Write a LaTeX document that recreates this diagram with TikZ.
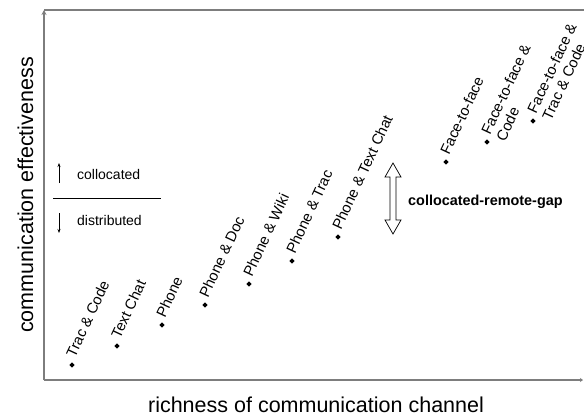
\documentclass[tikz,border=0pt]{standalone}
\usepackage{fontspec}
\setmainfont{Liberation Sans}
\usetikzlibrary{shapes.geometric, arrows.meta}
\definecolor{axisgray}{RGB}{125,125,125}
\newcommand{\twolines}[2]{\vtop{\hbox{#1}\hbox{#2}}}
\begin{document}
\begin{tikzpicture}[x=1pt,y=-1pt,
  axis/.style={draw=axisgray, line width=1.4pt},
  dot/.style={diamond, fill=black, inner sep=0pt, minimum size=5.5pt},
  lab/.style={rotate=65, anchor=base west, inner xsep=7pt, inner ysep=0pt,
    font=\fontsize{14.8}{16.5}\selectfont},
  legtext/.style={anchor=base west, inner sep=0pt, font=\fontsize{14}{16}\selectfont},
  axlabel/.style={anchor=base, inner sep=0pt, font=\fontsize{21.5}{24}\selectfont},
  legarrow/.style={draw=black, line width=0.7pt, -{Stealth[length=4pt,width=3pt]}},
  hollow/.style={draw=black, fill=white, line width=0.7pt}]
\useasboundingbox (0,0) rectangle (584,416);
% axes
\coordinate (O) at (44,380);
\coordinate (ytop) at (44,10);
\coordinate (tr) at (584,10);
\coordinate (xend) at (583,380);
\draw[axis] (ytop) -- (tr);
\draw[axis, -{Stealth[length=5pt,width=5pt]}] (O) -- (ytop);
\draw[axis, -{Stealth[length=3pt,width=4pt]}] (O) -- (xend);
% axis labels
\node[axlabel] (xl) at (316,412) {richness of communication channel};
\node[axlabel, rotate=90] (yl) at (33,195) {communication effectiveness};
% legend
\coordinate (ua) at (59,183); \coordinate (ub) at (59,163);
\coordinate (da) at (59,213); \coordinate (db) at (59,233);
\coordinate (la) at (53,198); \coordinate (lb) at (161,198);
\draw[legarrow] (ua) -- (ub);
\draw[legarrow] (da) -- (db);
\draw[black, line width=0.8pt] (la) -- (lb);
\node[legtext] (coll) at (77,179) {collocated};
\node[legtext] (dist) at (77,225) {distributed};
% gap arrow
\draw[hollow] (393,163) -- (401,177) -- (396,177) -- (396,220) -- (401,220) -- (393,234)
  -- (385,220) -- (390,220) -- (390,177) -- (385,177) -- cycle;
\node[legtext, font=\fontsize{14.4}{16}\selectfont\bfseries] (gap) at (408,205) {collocated-remote-gap};
% data points
\node[dot] (d1) at (72,365) {};
\node[dot] (d2) at (117,346) {};
\node[dot] (d3) at (162,325) {};
\node[dot] (d4) at (205,305) {};
\node[dot] (d5) at (249,284) {};
\node[dot] (d6) at (292,261) {};
\node[dot] (d7) at (338,237) {};
\node[dot] (d8) at (446,162) {};
\node[dot] (d9) at (487,142) {};
\node[dot] (d10) at (533,121) {};
\node[lab] (l1) at (d1.center) {Trac \& Code};
\node[lab] (l2) at (d2.center) {Text Chat};
\node[lab] (l3) at (d3.center) {Phone};
\node[lab] (l4) at (d4.center) {Phone \& Doc};
\node[lab] (l5) at (d5.center) {Phone \& Wiki};
\node[lab] (l6) at (d6.center) {Phone \& Trac};
\node[lab] (l7) at (d7.center) {Phone \& Text Chat};
\node[lab] (l8) at (d8.center) {Face-to-face};
\node[lab] (l9) at (d9.center) {\twolines{Face-to-face \&}{Code}};
\node[lab] (l10) at (d10.center) {\twolines{Face-to-face \&}{Trac \& Code}};
\end{tikzpicture}
\end{document}
